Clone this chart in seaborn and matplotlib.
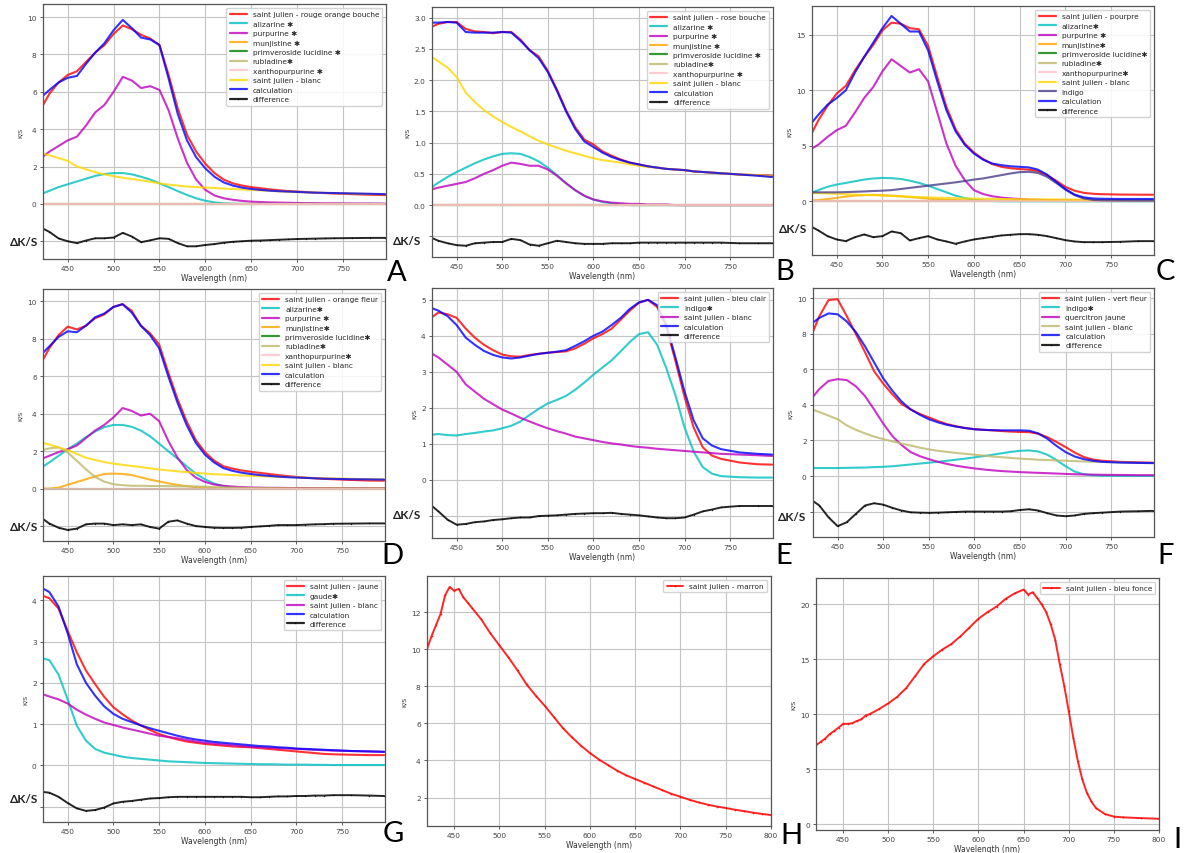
import matplotlib
matplotlib.use('Agg')
import matplotlib.pyplot as plt
import matplotlib.transforms as mtransforms
import seaborn as sns
import warnings
warnings.filterwarnings('ignore')

sns.set_style('whitegrid')
plt.rcParams.update({
    'font.family': ['DejaVu Sans'],
    'axes.edgecolor': '#555555',
    'axes.linewidth': 0.9,
    'grid.color': '#c4c4c4',
    'grid.linewidth': 0.8,
    'xtick.bottom': True,
    'ytick.left': True,
    'xtick.color': '#444444',
    'ytick.color': '#444444',
})

STAR = '\u2731'

# ---------- data (K/S) ----------
WL = [422, 430, 440, 450, 460, 470, 480, 490, 500, 510, 520, 530, 540, 550, 560, 570,
      580, 590, 600, 610, 620, 630, 640, 650, 660, 670, 680, 690, 700, 710, 720, 730,
      740, 760, 780, 796]
ZERO = [0.0] * len(WL)

# A - rouge orange bouche
a_measured = [5.2, 5.9, 6.5, 6.9, 7.1, 7.6, 8.1, 8.5, 9.1, 9.55, 9.35, 9.05, 8.85, 8.5, 6.9, 5.1,
              3.7, 2.8, 2.15, 1.65, 1.3, 1.1, 0.98, 0.9, 0.84, 0.78, 0.73, 0.69, 0.66, 0.63, 0.6, 0.58,
              0.56, 0.52, 0.49, 0.47]
a_calc = [5.75, 6.1, 6.5, 6.75, 6.85, 7.5, 8.1, 8.6, 9.3, 9.85, 9.4, 8.9, 8.8, 8.5, 6.7, 4.8,
          3.4, 2.5, 1.9, 1.45, 1.15, 0.98, 0.87, 0.8, 0.75, 0.71, 0.68, 0.66, 0.64, 0.62, 0.6, 0.59,
          0.58, 0.56, 0.54, 0.52]
a_purpurine = [2.5, 2.8, 3.1, 3.4, 3.6, 4.2, 4.9, 5.3, 6.0, 6.8, 6.6, 6.2, 6.3, 6.1, 5.0, 3.5,
               2.2, 1.3, 0.75, 0.45, 0.3, 0.22, 0.16, 0.12, 0.1, 0.08, 0.07, 0.06, 0.05, 0.04, 0.04, 0.03,
               0.03, 0.02, 0.02, 0.01]
a_alizarine = [0.55, 0.7, 0.9, 1.05, 1.2, 1.35, 1.5, 1.6, 1.65, 1.65, 1.58, 1.45, 1.3, 1.1, 0.9, 0.68,
               0.48, 0.3, 0.17, 0.08, 0.03, 0.01, 0, 0, 0, 0, 0, 0, 0, 0, 0, 0,
               0, 0, 0, 0]
a_blanc = [2.7, 2.6, 2.45, 2.3, 2.0, 1.85, 1.7, 1.58, 1.48, 1.4, 1.33, 1.26, 1.18, 1.1, 1.03, 0.98,
           0.93, 0.9, 0.87, 0.85, 0.82, 0.8, 0.77, 0.75, 0.72, 0.7, 0.67, 0.65, 0.63, 0.62, 0.6, 0.59,
           0.57, 0.55, 0.53, 0.52]
a_diff = [-1.3, -1.5, -1.85, -2.0, -2.1, -1.96, -1.84, -1.84, -1.8, -1.55, -1.75, -2.05, -1.95, -1.84, -1.87, -2.1,
          -2.27, -2.27, -2.2, -2.15, -2.08, -2.03, -2.0, -1.97, -1.96, -1.94, -1.92, -1.9, -1.88, -1.87, -1.86, -1.85,
          -1.84, -1.83, -1.82, -1.82]

# B - rose bouche
b_measured = [2.85, 2.9, 2.93, 2.93, 2.82, 2.78, 2.77, 2.75, 2.77, 2.77, 2.65, 2.48, 2.38, 2.15, 1.85, 1.52,
              1.25, 1.05, 0.97, 0.86, 0.79, 0.73, 0.68, 0.65, 0.62, 0.6, 0.58, 0.57, 0.56, 0.54, 0.53, 0.52,
              0.51, 0.49, 0.48, 0.47]
b_calc = [2.92, 2.92, 2.93, 2.92, 2.77, 2.76, 2.76, 2.76, 2.77, 2.76, 2.63, 2.48, 2.35, 2.13, 1.83, 1.5,
          1.22, 1.02, 0.93, 0.84, 0.77, 0.72, 0.68, 0.65, 0.62, 0.6, 0.58, 0.57, 0.56, 0.54, 0.53, 0.52,
          0.51, 0.49, 0.47, 0.45]
b_blanc = [2.38, 2.3, 2.2, 2.05, 1.8, 1.65, 1.52, 1.42, 1.33, 1.25, 1.18, 1.1, 1.03, 0.97, 0.92, 0.87,
           0.83, 0.79, 0.75, 0.72, 0.7, 0.68, 0.65, 0.63, 0.61, 0.6, 0.58, 0.57, 0.56, 0.54, 0.53, 0.52,
           0.51, 0.49, 0.48, 0.46]
b_alizarine = [0.28, 0.36, 0.45, 0.53, 0.6, 0.67, 0.73, 0.78, 0.82, 0.83, 0.82, 0.77, 0.7, 0.6, 0.48, 0.35,
               0.24, 0.15, 0.09, 0.05, 0.03, 0.01, 0, 0, 0, 0, 0, 0, 0, 0, 0, 0,
               0, 0, 0, 0]
b_purpurine = [0.25, 0.28, 0.31, 0.34, 0.37, 0.43, 0.5, 0.56, 0.63, 0.68, 0.66, 0.63, 0.63, 0.57, 0.47, 0.35,
               0.24, 0.15, 0.09, 0.06, 0.04, 0.03, 0.02, 0.02, 0.01, 0.01, 0.01, 0, 0, 0, 0, 0,
               0, 0, 0, 0]
b_diff = [-0.52, -0.57, -0.61, -0.64, -0.65, -0.61, -0.6, -0.59, -0.59, -0.54, -0.56, -0.63, -0.65, -0.61, -0.57, -0.59,
          -0.61, -0.62, -0.62, -0.62, -0.61, -0.61, -0.61, -0.6, -0.6, -0.6, -0.6, -0.6, -0.6, -0.6, -0.6, -0.6,
          -0.6, -0.61, -0.61, -0.61]

# C - pourpre
c_measured = [6.0, 7.3, 8.6, 9.7, 10.4, 11.8, 13.0, 14.1, 15.4, 16.1, 16.0, 15.6, 15.5, 14.0, 11.2, 8.5,
              6.5, 5.2, 4.4, 3.8, 3.35, 3.1, 2.97, 2.9, 2.85, 2.7, 2.35, 1.85, 1.3, 0.95, 0.76, 0.67,
              0.63, 0.6, 0.59, 0.58]
c_calc = [7.0, 7.8, 8.7, 9.3, 10.0, 11.6, 13.0, 14.3, 15.6, 16.7, 16.0, 15.3, 15.3, 13.6, 10.8, 8.2,
          6.3, 5.1, 4.3, 3.75, 3.4, 3.25, 3.15, 3.1, 3.05, 2.85, 2.4, 1.75, 1.1, 0.6, 0.35, 0.25,
          0.22, 0.2, 0.2, 0.2]
c_purpurine = [4.7, 5.1, 5.8, 6.4, 6.8, 8.0, 9.3, 10.3, 11.7, 12.8, 12.2, 11.6, 11.9, 10.8, 8.0, 5.2,
               3.2, 1.9, 1.0, 0.65, 0.45, 0.33, 0.25, 0.2, 0.15, 0.12, 0.1, 0.09, 0.08, 0.07, 0.06, 0.05,
               0.05, 0.04, 0.03, 0.03]
c_alizarine = [0.75, 1.0, 1.3, 1.5, 1.65, 1.8, 1.95, 2.05, 2.1, 2.08, 2.0, 1.85, 1.65, 1.4, 1.1, 0.8,
               0.5, 0.28, 0.14, 0.06, 0.02, 0, 0, 0, 0, 0, 0, 0, 0, 0, 0, 0,
               0, 0, 0, 0]
c_munjistine = [0.05, 0.1, 0.2, 0.3, 0.42, 0.5, 0.55, 0.58, 0.55, 0.5, 0.45, 0.38, 0.3, 0.24, 0.18, 0.14,
                0.1, 0.08, 0.06, 0.05, 0.04, 0.04, 0.03, 0.03, 0.03, 0.03, 0.02, 0.02, 0.02, 0.02, 0.02, 0.02,
                0.02, 0.02, 0.02, 0.02]
c_blanc = [0.75, 0.72, 0.7, 0.67, 0.63, 0.6, 0.57, 0.54, 0.5, 0.47, 0.43, 0.4, 0.37, 0.34, 0.31, 0.29,
           0.27, 0.25, 0.23, 0.22, 0.21, 0.2, 0.19, 0.18, 0.17, 0.17, 0.16, 0.16, 0.15, 0.15, 0.14, 0.14,
           0.13, 0.13, 0.12, 0.12]
c_indigo = [0.8, 0.8, 0.8, 0.8, 0.82, 0.85, 0.88, 0.92, 0.95, 1.0, 1.1, 1.2, 1.3, 1.4, 1.5, 1.6,
            1.7, 1.82, 1.95, 2.05, 2.2, 2.35, 2.5, 2.62, 2.65, 2.55, 2.2, 1.65, 1.05, 0.55, 0.25, 0.12,
            0.08, 0.06, 0.05, 0.05]
c_diff = [-2.28, -2.64, -3.15, -3.45, -3.6, -3.24, -3.0, -3.24, -3.15, -2.73, -2.88, -3.54, -3.33, -3.15, -3.45, -3.63,
          -3.84, -3.63, -3.45, -3.33, -3.21, -3.09, -3.03, -2.97, -2.97, -3.03, -3.15, -3.33, -3.51, -3.63, -3.69, -3.69,
          -3.69, -3.66, -3.6, -3.6]

# D - orange fleur
d_measured = [6.8, 7.5, 8.2, 8.65, 8.5, 8.7, 9.1, 9.3, 9.7, 9.85, 9.5, 8.7, 8.3, 7.7, 6.2, 4.8,
              3.6, 2.6, 1.95, 1.5, 1.2, 1.07, 0.97, 0.9, 0.84, 0.78, 0.72, 0.67, 0.62, 0.58, 0.55, 0.52,
              0.5, 0.46, 0.43, 0.42]
d_calc = [7.2, 7.6, 8.1, 8.4, 8.35, 8.7, 9.15, 9.35, 9.7, 9.85, 9.4, 8.7, 8.2, 7.5, 6.0, 4.6,
          3.4, 2.45, 1.82, 1.4, 1.1, 0.95, 0.85, 0.78, 0.72, 0.68, 0.64, 0.61, 0.59, 0.57, 0.55, 0.53,
          0.52, 0.5, 0.49, 0.48]
d_purpurine = [1.6, 1.75, 1.95, 2.1, 2.3, 2.7, 3.1, 3.4, 3.8, 4.3, 4.15, 3.9, 4.0, 3.6, 2.55, 1.66,
               1.0, 0.59, 0.36, 0.22, 0.15, 0.11, 0.08, 0.06, 0.05, 0.04, 0.04, 0.03, 0.03, 0.03, 0.02, 0.02,
               0.02, 0.02, 0.02, 0.02]
d_alizarine = [1.15, 1.4, 1.75, 2.1, 2.4, 2.75, 3.05, 3.28, 3.4, 3.4, 3.3, 3.1, 2.8, 2.4, 2.0, 1.6,
               1.2, 0.8, 0.5, 0.27, 0.13, 0.05, 0.02, 0, 0, 0, 0, 0, 0, 0, 0, 0,
               0, 0, 0, 0]
d_munjistine = [0, 0, 0.05, 0.2, 0.35, 0.5, 0.65, 0.78, 0.8, 0.78, 0.72, 0.6, 0.48, 0.38, 0.28, 0.2,
                0.13, 0.08, 0.05, 0.03, 0.02, 0.01, 0, 0, 0, 0, 0, 0, 0, 0, 0, 0,
                0, 0, 0, 0]
d_rubiadine = [2.05, 2.15, 2.2, 1.93, 1.48, 1.03, 0.62, 0.37, 0.23, 0.18, 0.15, 0.15, 0.14, 0.14, 0.13, 0.12,
               0.12, 0.11, 0.1, 0.08, 0.06, 0.05, 0.04, 0.03, 0.02, 0.02, 0.01, 0.01, 0, 0, 0, 0,
               0, 0, 0, 0]
d_blanc = [2.45, 2.35, 2.2, 2.05, 1.85, 1.65, 1.52, 1.42, 1.33, 1.27, 1.21, 1.15, 1.08, 1.02, 0.97, 0.92,
           0.88, 0.84, 0.8, 0.77, 0.75, 0.72, 0.7, 0.68, 0.66, 0.65, 0.63, 0.62, 0.6, 0.58, 0.56, 0.55,
           0.54, 0.52, 0.5, 0.49]
d_diff = [-1.59, -1.87, -2.09, -2.21, -2.14, -1.91, -1.87, -1.87, -1.95, -1.91, -1.95, -1.91, -2.05, -2.14, -1.77, -1.7,
          -1.87, -2.0, -2.05, -2.09, -2.1, -2.1, -2.09, -2.05, -2.02, -1.99, -1.95, -1.95, -1.95, -1.93, -1.91, -1.9,
          -1.88, -1.87, -1.86, -1.86]

# E - bleu clair
e_measured = [4.5, 4.65, 4.6, 4.5, 4.2, 3.95, 3.75, 3.6, 3.48, 3.43, 3.42, 3.47, 3.5, 3.53, 3.55, 3.57,
              3.65, 3.78, 3.93, 4.05, 4.2, 4.45, 4.7, 4.92, 5.0, 4.8, 4.24, 3.3, 2.3, 1.45, 0.9, 0.67,
              0.58, 0.48, 0.43, 0.42]
e_calc = [4.78, 4.7, 4.55, 4.3, 3.95, 3.75, 3.58, 3.47, 3.4, 3.37, 3.4, 3.45, 3.5, 3.53, 3.56, 3.6,
          3.72, 3.85, 4.0, 4.12, 4.3, 4.5, 4.75, 4.93, 5.0, 4.85, 4.3, 3.4, 2.45, 1.65, 1.15, 0.95,
          0.85, 0.76, 0.72, 0.7]
e_indigo = [1.25, 1.27, 1.24, 1.23, 1.27, 1.3, 1.34, 1.37, 1.43, 1.5, 1.62, 1.8, 1.97, 2.12, 2.22, 2.33,
            2.5, 2.7, 2.92, 3.12, 3.32, 3.57, 3.83, 4.05, 4.1, 3.75, 3.1, 2.35, 1.45, 0.78, 0.35, 0.17,
            0.1, 0.07, 0.06, 0.06]
e_blanc = [3.52, 3.4, 3.2, 3.0, 2.65, 2.45, 2.25, 2.1, 1.95, 1.84, 1.72, 1.62, 1.52, 1.43, 1.35, 1.28,
           1.2, 1.15, 1.1, 1.05, 1.01, 0.98, 0.94, 0.91, 0.89, 0.86, 0.84, 0.82, 0.8, 0.78, 0.76, 0.74,
           0.72, 0.7, 0.68, 0.66]
e_diff = [-0.71, -0.88, -1.11, -1.25, -1.23, -1.18, -1.16, -1.12, -1.1, -1.07, -1.05, -1.05, -1.01, -1.0, -0.99, -0.97,
          -0.95, -0.94, -0.93, -0.93, -0.92, -0.95, -0.97, -0.99, -1.02, -1.05, -1.07, -1.07, -1.05, -0.97, -0.88, -0.83,
          -0.77, -0.73, -0.73, -0.73]

# F - vert fleur
f_measured = [8.0, 9.0, 9.9, 9.95, 9.0, 8.0, 6.97, 5.9, 5.2, 4.6, 4.06, 3.75, 3.5, 3.3, 3.1, 2.92,
              2.8, 2.7, 2.64, 2.6, 2.57, 2.53, 2.5, 2.48, 2.47, 2.38, 2.19, 1.92, 1.63, 1.32, 1.07, 0.93,
              0.86, 0.8, 0.77, 0.75]
f_calc = [8.6, 8.9, 9.15, 9.1, 8.7, 8.1, 7.3, 6.4, 5.5, 4.8, 4.2, 3.75, 3.45, 3.2, 3.02, 2.88,
          2.78, 2.7, 2.63, 2.6, 2.58, 2.57, 2.57, 2.57, 2.55, 2.4, 2.1, 1.7, 1.35, 1.1, 0.95, 0.86,
          0.8, 0.76, 0.74, 0.73]
f_indigo = [0.45, 0.45, 0.45, 0.45, 0.46, 0.47, 0.48, 0.5, 0.52, 0.55, 0.6, 0.65, 0.7, 0.75, 0.8, 0.86,
            0.92, 0.98, 1.05, 1.12, 1.2, 1.28, 1.36, 1.42, 1.44, 1.38, 1.2, 0.9, 0.55, 0.25, 0.1, 0.04,
            0.02, 0.01, 0.01, 0.01]
f_quercitron = [4.4, 4.9, 5.35, 5.45, 5.4, 5.05, 4.5, 3.75, 2.95, 2.25, 1.75, 1.35, 1.12, 0.95, 0.8, 0.68,
                0.58, 0.5, 0.43, 0.37, 0.32, 0.28, 0.25, 0.22, 0.2, 0.18, 0.16, 0.14, 0.12, 0.1, 0.09, 0.08,
                0.07, 0.06, 0.05, 0.05]
f_blanc = [3.75, 3.6, 3.4, 3.2, 2.85, 2.6, 2.4, 2.22, 2.08, 1.95, 1.83, 1.72, 1.6, 1.5, 1.42, 1.36,
           1.3, 1.25, 1.2, 1.15, 1.1, 1.06, 1.02, 0.98, 0.95, 0.92, 0.9, 0.88, 0.86, 0.84, 0.82, 0.8,
           0.79, 0.76, 0.74, 0.72]
f_diff = [-1.37, -1.66, -2.32, -2.82, -2.6, -2.13, -1.66, -1.53, -1.61, -1.79, -1.94, -2.04, -2.06, -2.07, -2.06, -2.04,
          -2.02, -2.0, -2.0, -2.0, -2.0, -2.0, -1.98, -1.91, -1.87, -1.94, -2.09, -2.22, -2.26, -2.22, -2.13, -2.09,
          -2.06, -2.0, -1.98, -1.96]

# G - jaune
g_measured = [4.12, 4.05, 3.8, 3.26, 2.74, 2.3, 1.97, 1.66, 1.41, 1.24, 1.09, 0.97, 0.86, 0.76, 0.69, 0.63,
              0.58, 0.55, 0.52, 0.5, 0.48, 0.46, 0.45, 0.44, 0.42, 0.4, 0.38, 0.36, 0.34, 0.32, 0.3, 0.28,
              0.27, 0.26, 0.25, 0.25]
g_calc = [4.3, 4.2, 3.85, 3.2, 2.45, 2.0, 1.69, 1.43, 1.25, 1.13, 1.05, 0.97, 0.9, 0.84, 0.78, 0.72,
          0.67, 0.63, 0.6, 0.57, 0.55, 0.53, 0.51, 0.49, 0.47, 0.46, 0.44, 0.43, 0.41, 0.4, 0.39, 0.38,
          0.37, 0.35, 0.34, 0.33]
g_gaude = [2.6, 2.55, 2.2, 1.6, 0.96, 0.6, 0.4, 0.31, 0.26, 0.21, 0.18, 0.16, 0.14, 0.12, 0.1, 0.09,
           0.08, 0.07, 0.06, 0.055, 0.05, 0.045, 0.04, 0.035, 0.03, 0.03, 0.025, 0.02, 0.02, 0.02, 0.015, 0.015,
           0.01, 0.01, 0.01, 0.01]
g_blanc = [1.73, 1.67, 1.6, 1.5, 1.35, 1.23, 1.13, 1.04, 0.98, 0.92, 0.87, 0.82, 0.77, 0.72, 0.69, 0.66,
           0.62, 0.58, 0.55, 0.53, 0.51, 0.49, 0.47, 0.45, 0.44, 0.43, 0.42, 0.41, 0.4, 0.39, 0.38, 0.37,
           0.36, 0.35, 0.34, 0.33]
g_diff = [-0.64, -0.66, -0.76, -0.91, -1.04, -1.1, -1.08, -1.02, -0.92, -0.88, -0.86, -0.83, -0.8, -0.79, -0.77, -0.76,
          -0.76, -0.76, -0.76, -0.76, -0.76, -0.76, -0.76, -0.77, -0.77, -0.76, -0.75, -0.75, -0.74, -0.74, -0.73, -0.73,
          -0.72, -0.72, -0.73, -0.74]

# H - marron
h_wl = [420, 425, 430, 435, 440, 445, 450, 455, 460, 465, 470, 480, 490, 500, 510, 520, 530, 540, 550, 560,
        570, 580, 590, 600, 610, 620, 630, 640, 650, 660, 670, 680, 690, 700, 710, 720, 730, 740, 750, 760,
        770, 780, 790, 800]
h_ks = [10.0, 10.7, 11.3, 11.9, 12.9, 13.35, 13.15, 13.25, 12.8, 12.5, 12.2, 11.6, 10.85, 10.2, 9.55, 8.85,
        8.1, 7.5, 6.95, 6.35, 5.75, 5.25, 4.8, 4.4, 4.05, 3.75, 3.45, 3.2, 3.0, 2.8, 2.6, 2.4, 2.2, 2.05,
        1.88, 1.74, 1.62, 1.52, 1.44, 1.35, 1.27, 1.19, 1.12, 1.06]

# I - bleu fonce
i_wl = [420, 425, 430, 435, 440, 445, 450, 455, 460, 465, 470, 475, 480, 490, 500, 510, 520, 530, 540, 550,
        560, 570, 580, 590, 600, 610, 620, 630, 640, 650, 655, 660, 665, 670, 675, 680, 685, 690, 695, 700,
        705, 710, 715, 720, 725, 730, 740, 750, 760, 780, 800]
i_ks = [7.2, 7.5, 7.8, 8.2, 8.5, 8.8, 9.15, 9.15, 9.2, 9.4, 9.55, 9.9, 10.05, 10.5, 11.0, 11.6, 12.4, 13.5,
        14.6, 15.3, 15.9, 16.4, 17.1, 17.9, 18.7, 19.3, 19.8, 20.5, 21.0, 21.35, 20.9, 21.1, 20.6, 20.0, 19.3,
        18.2, 16.8, 14.6, 12.6, 10.3, 7.9, 5.8, 4.1, 2.9, 2.1, 1.5, 0.95, 0.72, 0.65, 0.58, 0.52]

# ---------- colours ----------
RED, CYAN, MAG, BLUE = 'red', 'c', 'm', 'b'
ORANGE, GREEN, KHAKI, PINK, GOLD = 'orange', 'g', 'darkkhaki', 'pink', 'gold'
DSB = 'darkslateblue'


def madder_set(measured_label, measured, aliz, purp, munj, blanc, rub=ZERO, star_space=' '):
    s = star_space
    return [(measured_label, measured, RED),
            ('alizarine' + s + STAR, aliz, CYAN),
            ('purpurine ' + STAR, purp, MAG),
            ('munjistine' + s + STAR, munj, ORANGE),
            ('primveroside lucidine' + s + STAR, ZERO, GREEN),
            ('rubiadine' + STAR, rub, KHAKI),
            ('xanthopurpurine' + s + STAR, ZERO, PINK),
            ('saint julien - blanc', blanc, GOLD)]


panels = [
    # key, rect(px), series, diff, ylim, yticks, decimals, delta y, delta x
    ('A', (43, 5, 386, 260),
     madder_set('saint julien - rouge orange bouche', a_measured, a_alizarine, a_purpurine, ZERO, a_blanc)
     + [('calculation', a_calc, BLUE)], a_diff,
     (-2.95, 10.7), [-2, 0, 2, 4, 6, 8, 10], 0, -2.0, 24),
    ('B', (432, 8, 773, 258),
     madder_set('saint julien - rose bouche', b_measured, b_alizarine, b_purpurine, ZERO, b_blanc)
     + [('calculation', b_calc, BLUE)], b_diff,
     (-0.83, 3.17), [-0.5, 0, 0.5, 1.0, 1.5, 2.0, 2.5, 3.0], 1, -0.57, 407),
    ('C', (812, 7, 1154, 256),
     madder_set('saint julien - pourpre', c_measured, c_alizarine, c_purpurine, c_munjistine, c_blanc, star_space='')
     + [('indigo', c_indigo, DSB), ('calculation', c_calc, BLUE)], c_diff,
     (-4.85, 17.6), [0, 5, 10, 15], 0, -2.5, 793),
    ('D', (43, 290, 385, 542),
     madder_set('saint julien - orange fleur', d_measured, d_alizarine, d_purpurine, d_munjistine, d_blanc,
                rub=d_rubiadine, star_space='')
     + [('calculation', d_calc, BLUE)], d_diff,
     (-2.8, 10.66), [-2, 0, 2, 4, 6, 8, 10], 0, -2.0, 24),
    ('E', (432, 289, 773, 539),
     [('saint julien - bleu clair', e_measured, RED), ('indigo' + STAR, e_indigo, CYAN),
      ('saint julien - blanc', e_blanc, MAG), ('calculation', e_calc, BLUE)], e_diff,
     (-1.62, 5.33), [-1, 0, 1, 2, 3, 4, 5], 0, -0.98, 407),
    ('F', (813, 289, 1154, 538),
     [('saint julien - vert fleur', f_measured, RED), ('indigo' + STAR, f_indigo, CYAN),
      ('quercitron jaune', f_quercitron, MAG), ('saint julien - blanc', f_blanc, KHAKI),
      ('calculation', f_calc, BLUE)], f_diff,
     (-3.43, 10.58), [-2, 0, 2, 4, 6, 8, 10], 0, -2.3, 792),
    ('G', (43, 577, 385, 823),
     [('saint julien - jaune', g_measured, RED), ('gaude' + STAR, g_gaude, CYAN),
      ('saint julien - blanc', g_blanc, MAG), ('calculation', g_calc, BLUE)], g_diff,
     (-1.37, 4.59), [-1, 0, 1, 2, 3, 4], 0, -0.8, 24),
]

LETTERS = {'A': (397, 273), 'B': (785, 272), 'C': (1165, 272),
           'D': (392, 556), 'E': (784, 556), 'F': (1166, 556),
           'G': (393, 834), 'H': (791, 836), 'I': (1177, 840)}

W, H = 1184, 854
fig = plt.figure(figsize=(W / 100, H / 100), dpi=100)


def make_ax(rect):
    x0, y0, x1, y1 = rect
    return fig.add_axes([x0 / W, 1 - y1 / H, (x1 - x0) / W, (y1 - y0) / H])


def style_ax(ax, xlim, xticks):
    ax.set_xlim(*xlim)
    ax.set_xticks(xticks)
    ax.tick_params(labelsize=5.3, length=2.5, width=0.6, pad=2)
    ax.set_xlabel('Wavelength (nm)', fontsize=5.5, labelpad=1.5, color='#333333')
    ax.set_ylabel('K/S', fontsize=4.6, labelpad=3, color='#333333')
    for sp in ax.spines.values():
        sp.set_color('#555555')
        sp.set_linewidth(0.9)


for key, rect, series, diff, ylim, yticks, dec, dy, dx in panels:
    ax = make_ax(rect)
    for lab, vals, col in series:
        sns.lineplot(x=WL, y=vals, ax=ax, color=col, label=lab, lw=1.5, alpha=0.8,
                     sort=False, errorbar=None)
    sns.lineplot(x=WL, y=diff, ax=ax, color='k', label='difference', lw=1.4, alpha=0.85,
                 marker='.', markersize=2, markeredgewidth=0, sort=False, errorbar=None)
    style_ax(ax, (423, 797), [450, 500, 550, 600, 650, 700, 750])
    ax.set_ylim(*ylim)
    ax.set_yticks(yticks)
    labels = [('%.1f' % t if dec else '%d' % t) for t in yticks]
    if yticks[0] < 0:
        labels[0] = ''
    ax.set_yticklabels(labels)
    leg = ax.legend(loc='upper right', fontsize=5.3, handlelength=2.3, labelspacing=0.45,
                    borderpad=0.45, framealpha=0.85, edgecolor='#cccccc')
    for h in leg.get_lines():
        h.set_linewidth(1.6)
    tr = mtransforms.blended_transform_factory(fig.transFigure, ax.transData)
    ax.text(dx / W, dy, '\u0394K/S', transform=tr, ha='center', va='center',
            fontsize=8.5, fontweight='bold', family=['Lato', 'DejaVu Sans'], color='#222222')

# H and I: single measured spectra
for key, rect, wl, ks, lab, ylim, yticks in [
        ('H', (427, 577, 771, 827), h_wl, h_ks, 'saint julien - marron', (0.47, 13.94), [2, 4, 6, 8, 10, 12]),
        ('I', (816, 579, 1159, 831), i_wl, i_ks, 'saint julien - bleu fonce', (-0.5, 22.4), [0, 5, 10, 15, 20])]:
    ax = make_ax(rect)
    sns.lineplot(x=wl, y=ks, ax=ax, color=RED, label=lab, lw=1.4, alpha=0.85,
                 marker='.', markersize=2.5, markeredgewidth=0, sort=False, errorbar=None)
    style_ax(ax, (420, 800), [450, 500, 550, 600, 650, 700, 750, 800])
    ax.set_ylim(*ylim)
    ax.set_yticks(yticks)
    ax.legend(loc='upper right', fontsize=5.3, handlelength=2.3, borderpad=0.45,
              framealpha=0.85, edgecolor='#cccccc')

# panel letters
for letter, (lx, ly) in LETTERS.items():
    fig.text(lx / W, 1 - ly / H, letter, ha='center', va='center', fontsize=21,
             family=['Lato', 'DejaVu Sans'], fontweight='normal', color='black')

fig.savefig('out.png', dpi=100)
